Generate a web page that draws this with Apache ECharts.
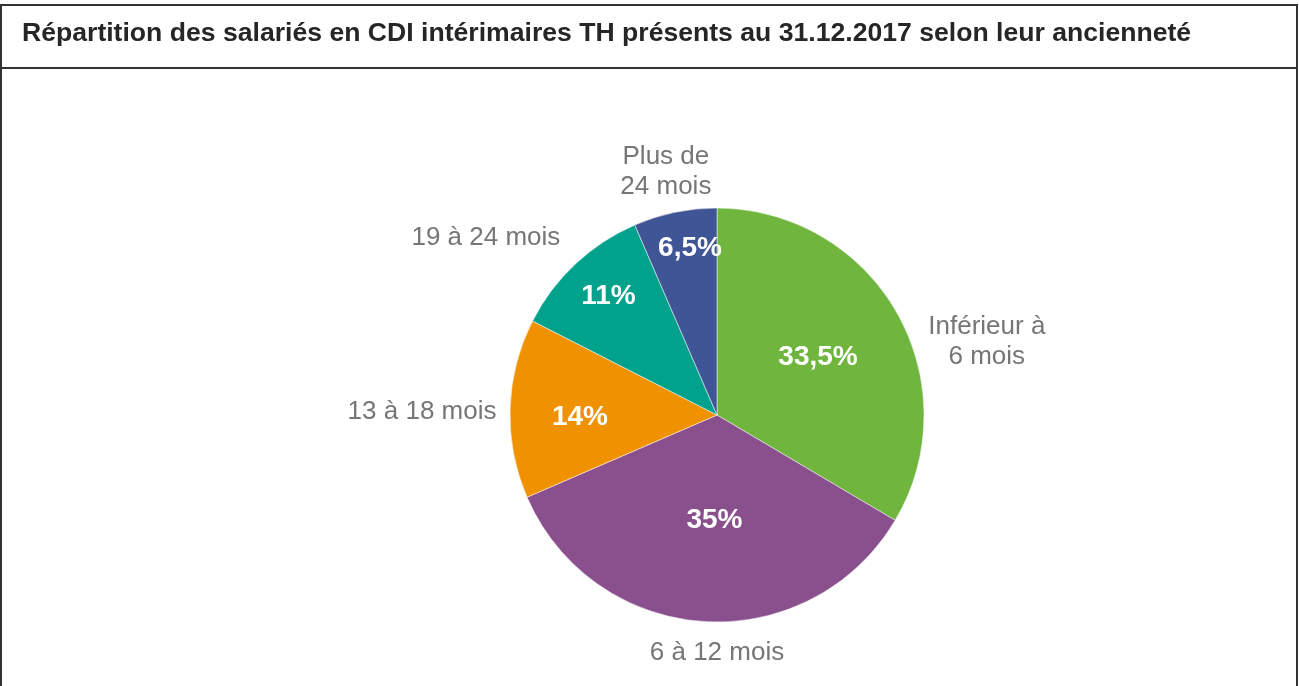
<!DOCTYPE html>
<html>
<head>
<meta charset="utf-8">
<script src="https://cdn.jsdelivr.net/npm/echarts@6/dist/echarts.min.js"></script>
<style>
  html, body { margin: 0; padding: 0; background: #fff; }
  #chart { width: 1299px; height: 686px; }
</style>
</head>
<body>
<div id="chart"></div>
<script>
const titleText = 'Répartition des salariés en CDI intérimaires TH présents au 31.12.2017 selon leur ancienneté';
const categories = ['Inférieur à\n6 mois', '6 à 12 mois', '13 à 18 mois', '19 à 24 mois', 'Plus de\n24 mois'];
const values = [33.5, 35, 14, 11, 6.5];
const valueLabels = ['33,5%', '35%', '14%', '11%', '6,5%'];
const colors = ['#6fb53e', '#8a508e', '#f09200', '#00a28b', '#405596'];

// label placement (polar: degrees clockwise from top, px from pie centre)
const cx = 717, cy = 415, radius = 207;
const innerLabelPolar = [[59.3, 117.5], [181.4, 103.5], [270, 137], [318.1, 162.5], [350.9, 170.6]];
const outerLabelPolar = [[74.5, 280], [180, 236], [271, 295], [307.8, 292.5], [348.2, 250]];
const textNudge = 2; // glyph box vs visual centre

function polar(angleDeg, dist) {
	const a = angleDeg * Math.PI / 180;
	return [cx + dist * Math.sin(a), cy - dist * Math.cos(a) + textNudge];
}

const chart = echarts.init(document.getElementById('chart'));

const option = {
	animation: false,
	graphic: [
		{
			type: 'rect',
			shape: { x: 1, y: 5, width: 1296, height: 700 },
			style: { fill: 'none', stroke: '#333', lineWidth: 2 },
		},
		{
			type: 'line',
			shape: { x1: 1, y1: 68, x2: 1297, y2: 68 },
			style: { stroke: '#333', lineWidth: 2 },
		},
		{
			type: 'text',
			x: 22,
			y: 34,
			style: {
				text: titleText,
				fill: '#262626',
				verticalAlign: 'middle',
				font: 'bold 26.6px "Liberation Sans", Arial, sans-serif',
			},
		},
	],
	series: [
		{
			type: 'pie',
			center: [cx, cy],
			radius: radius,
			startAngle: 90,
			clockwise: true,
			avoidLabelOverlap: false,
			itemStyle: { borderColor: '#fff', borderWidth: 0.5 },
			label: {
				show: true,
				position: 'inside',
				color: '#fff',
				fontFamily: '"Liberation Sans", Arial, sans-serif',
				fontWeight: 'bold',
				fontSize: 28,
				formatter: p => valueLabels[p.dataIndex],
			},
			labelLayout: p => {
				const [ang, d] = innerLabelPolar[p.dataIndex];
				const [x, y] = polar(ang, d);
				return { x: x, y: y, align: 'center', verticalAlign: 'middle' };
			},
			data: categories.map((c, i) => ({
				name: c,
				value: values[i],
				itemStyle: { color: colors[i] },
			})),
		},
		{
			type: 'pie',
			center: [cx, cy],
			radius: radius,
			startAngle: 90,
			clockwise: true,
			silent: true,
			avoidLabelOverlap: false,
			itemStyle: { color: 'rgba(0,0,0,0)' },
			labelLine: { show: false },
			label: {
				show: true,
				position: 'outside',
				color: '#767676',
				fontFamily: '"Liberation Sans", Arial, sans-serif',
				fontSize: 26,
				lineHeight: 30,
				align: 'center',
				formatter: p => p.name,
			},
			labelLayout: p => {
				const [ang, d] = outerLabelPolar[p.dataIndex];
				const [x, y] = polar(ang, d);
				return { x: x, y: y, align: 'center', verticalAlign: 'middle' };
			},
			data: categories.map((c, i) => ({ name: c, value: values[i] })),
		},
	],
};
chart.setOption(option);
</script>
</body>
</html>
